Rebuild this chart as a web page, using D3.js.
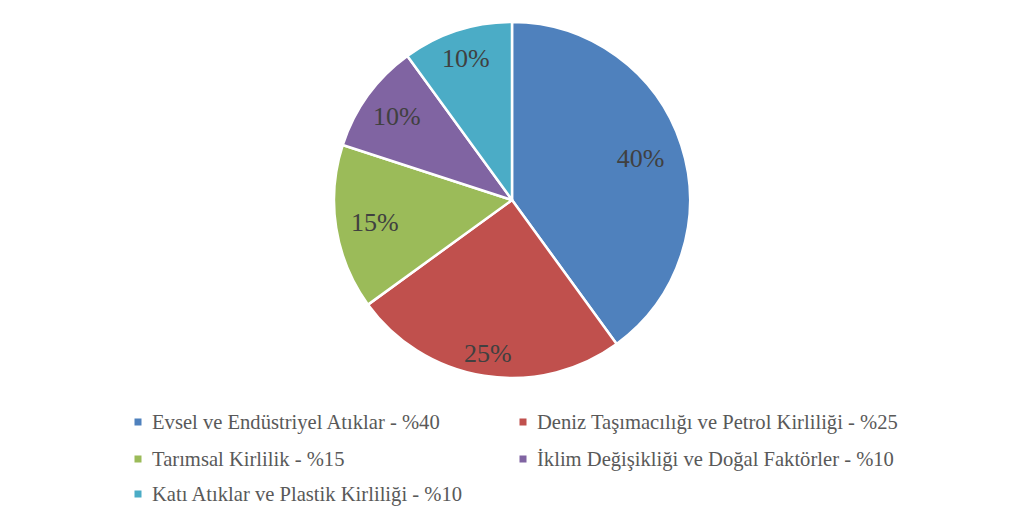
<!DOCTYPE html>
<html><head><meta charset="utf-8">
<script src="https://cdn.jsdelivr.net/npm/d3@7"></script>
<style>body{margin:0;background:#fff}</style>
</head><body>
<svg id="c" width="1024" height="522"></svg>
<script>
const categories = ["Evsel ve Endüstriyel Atıklar","Deniz Taşımacılığı ve Petrol Kirliliği","Tarımsal Kirlilik","İklim Değişikliği ve Doğal Faktörler","Katı Atıklar ve Plastik Kirliliği"];
const values = [40,25,15,10,10];
const colors = ["#4F81BD","#C0504D","#9BBB59","#8064A2","#4BACC6"];

const svg = d3.select("#c");
const cx = 512, cy = 200, r = 178;
const font = "'Liberation Serif', serif";
const pie = d3.pie().sort(null).value(d=>d)(values);
const arc = d3.arc().innerRadius(0).outerRadius(r);
const g = svg.append("g").attr("transform",`translate(${cx},${cy})`);
g.selectAll("path").data(pie).join("path")
  .attr("d",arc).attr("fill",(d,i)=>colors[i])
  .attr("stroke","#fff").attr("stroke-width",2.5).attr("stroke-linejoin","round");
const lf = [0.76,0.87,0.78,0.80,0.84];
g.selectAll("text").data(pie).join("text")
  .attr("transform",(d,i)=>{const a=(d.startAngle+d.endAngle)/2, rr=r*lf[i];return `translate(${rr*Math.sin(a)},${-rr*Math.cos(a)})`;})
  .attr("text-anchor","middle").attr("dy","0.35em")
  .style("font-family",font).style("font-size","26px").attr("fill","#404040")
  .text(d=>d3.format(".0%")(d.value/100));

const legX = [138,523], legY=[422,459,494];
const lg = svg.append("g");
categories.forEach((c,i)=>{
  const x = legX[i%2], y = legY[Math.floor(i/2)];
  lg.append("rect").attr("x",x-3.5).attr("y",y-3.5).attr("width",7).attr("height",7).attr("fill",colors[i]);
  lg.append("text").attr("x",x+14).attr("y",y).attr("dy","0.35em")
    .style("font-family",font).style("font-size","20.6px").attr("fill","#595959")
    .text(`${c} - %${values[i]}`);
});
</script>
</body></html>
